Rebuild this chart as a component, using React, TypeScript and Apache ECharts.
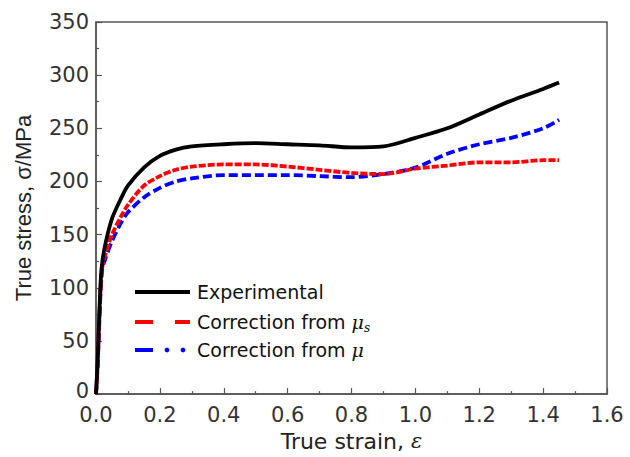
import React, { useEffect, useRef } from "react";
import * as echarts from "echarts";

const strainExp = [0, 0.005, 0.01, 0.015, 0.02, 0.03, 0.05, 0.08, 0.1, 0.15, 0.2, 0.25, 0.3, 0.4, 0.5, 0.6, 0.7, 0.8, 0.9, 1.0, 1.1, 1.2, 1.3, 1.4, 1.45];
const stressExp = [0, 30, 72, 108, 125, 142, 165, 185, 196, 213, 224, 230, 233, 235, 236, 235, 234, 232, 233, 241, 250, 263, 276, 287, 293];

const strainMus = [0, 0.005, 0.01, 0.015, 0.02, 0.03, 0.05, 0.08, 0.1, 0.15, 0.2, 0.25, 0.3, 0.4, 0.5, 0.6, 0.7, 0.8, 0.9, 1.0, 1.1, 1.2, 1.3, 1.4, 1.45];
const stressMus = [0, 28, 68, 103, 120, 132, 150, 168, 178, 196, 205, 211, 214, 216, 216, 214, 211, 208, 207, 212, 215, 218, 218, 220, 220];

const strainMu = [0, 0.005, 0.01, 0.015, 0.02, 0.03, 0.05, 0.08, 0.1, 0.15, 0.2, 0.25, 0.3, 0.4, 0.5, 0.6, 0.7, 0.8, 0.9, 1.0, 1.1, 1.2, 1.3, 1.4, 1.45];
const stressMu = [0, 25, 64, 100, 118, 128, 144, 162, 171, 185, 194, 200, 203, 206, 206, 206, 205, 204, 207, 213, 226, 235, 241, 250, 258];

const legendNames = ["Experimental", "Correction from ", "Correction from "];

const zip = (xs: number[], ys: number[]) => xs.map((x, i) => [x, ys[i]]);

const FONT = "'DejaVu Sans', 'Liberation Sans', Arial, sans-serif";
const FONT_Y = "'Liberation Sans', Arial, sans-serif";
const SERIF = "'DejaVu Serif', serif";

export default function App() {
  const ref = useRef<HTMLDivElement>(null);
  useEffect(() => {
    if (!ref.current) return;
    const chart = echarts.init(ref.current, undefined, { renderer: "svg" });
    const axisColor = "#555";
    const legendText = 197;
    const lw = 3.8;
    chart.setOption({
      animation: false,
      backgroundColor: "#fff",
      grid: {
        left: 96,
        right: 23,
        top: 22,
        bottom: 61,
        show: true,
        borderColor: axisColor,
        borderWidth: 1.5,
        backgroundColor: "transparent",
      },
      xAxis: {
        type: "value",
        min: 0,
        max: 1.6,
        interval: 0.2,
        name: "{n|True strain, }{i|ε}",
        nameLocation: "middle",
        nameGap: 34,
        nameTextStyle: {
          rich: {
            n: { fontFamily: FONT, fontSize: 22, color: "#222" },
            i: { fontFamily: SERIF, fontStyle: "italic", fontSize: 21, color: "#222" },
          },
        },
        axisLine: { show: true, lineStyle: { color: axisColor, width: 1.5 } },
        axisTick: { show: true, inside: true, length: 6, lineStyle: { color: axisColor, width: 1.2 } },
        minorTick: { show: true, splitNumber: 2, length: 3, lineStyle: { color: axisColor, width: 1.2 } },
        splitLine: { show: false },
        axisLabel: {
          fontFamily: FONT,
          fontSize: 21,
          lineHeight: 17,
          color: "#333",
          margin: 12,
          formatter: (v: number) => v.toFixed(1),
        },
      },
      yAxis: {
        type: "value",
        min: 0,
        max: 350,
        interval: 50,
        name: "True stress, σ/MPa",
        nameLocation: "middle",
        nameGap: 62,
        nameTextStyle: { fontFamily: FONT_Y, fontSize: 22, color: "#222" },
        axisLine: { show: true, lineStyle: { color: axisColor, width: 1.5 } },
        axisTick: { show: true, inside: true, length: 6, lineStyle: { color: axisColor, width: 1.2 } },
        minorTick: { show: true, splitNumber: 2, length: 3, lineStyle: { color: axisColor, width: 1.2 } },
        splitLine: { show: false },
        axisLabel: {
          fontFamily: FONT,
          fontSize: 21,
          lineHeight: 16,
          color: "#333",
          margin: 7,
          formatter: (v: number) => (v === 0 ? "{z|0}" : String(v)),
          rich: {
            z: { fontFamily: FONT, fontSize: 21, lineHeight: 16, color: "#333", padding: [0, 0, 7, 0] },
          },
        },
      },
      series: [
        {
          name: "Experimental",
          type: "line",
          data: zip(strainExp, stressExp),
          smooth: 0.3,
          showSymbol: false,
          lineStyle: { color: "#000", width: lw },
          z: 3,
        },
        {
          name: "Correction from mu_s",
          type: "line",
          data: zip(strainMus, stressMus),
          smooth: 0.3,
          showSymbol: false,
          lineStyle: { color: "#f00", width: lw, type: [7, 2] },
          z: 2,
        },
        {
          name: "Correction from mu",
          type: "line",
          data: zip(strainMu, stressMu),
          smooth: 0.3,
          showSymbol: false,
          lineStyle: { color: "#00f", width: lw, type: [9, 4] },
          z: 1,
        },
      ],
      graphic: [
        { type: "line", shape: { x1: 135, y1: 292, x2: 190, y2: 292 }, style: { stroke: "#000", lineWidth: 4 } },
        { type: "line", shape: { x1: 135, y1: 322, x2: 153, y2: 322 }, style: { stroke: "#f00", lineWidth: 4 } },
        { type: "line", shape: { x1: 175, y1: 322, x2: 190, y2: 322 }, style: { stroke: "#f00", lineWidth: 4 } },
        { type: "line", shape: { x1: 135, y1: 350, x2: 153, y2: 350 }, style: { stroke: "#00f", lineWidth: 4 } },
        { type: "circle", shape: { cx: 167, cy: 350, r: 2.4 }, style: { fill: "#00f" } },
        { type: "circle", shape: { cx: 183, cy: 350, r: 2.4 }, style: { fill: "#00f" } },
        {
          type: "text",
          x: legendText,
          y: 292,
          style: { text: legendNames[0], fontFamily: FONT, fontSize: 19, fill: "#111", verticalAlign: "middle" },
        },
        {
          type: "text",
          x: legendText,
          y: 322,
          style: {
            text: "{n|" + legendNames[1] + "}{i|μ}{s|s}",
            fontFamily: FONT,
            fontSize: 19,
            fill: "#111",
            verticalAlign: "middle",
            rich: {
              n: { fontFamily: FONT, fontSize: 19, fill: "#111" },
              i: { fontFamily: SERIF, fontStyle: "italic", fontSize: 19, fill: "#111" },
              s: { fontFamily: SERIF, fontStyle: "italic", fontSize: 12, fill: "#111", padding: [12, 0, 0, 0] },
            },
          },
        },
        {
          type: "text",
          x: legendText,
          y: 350,
          style: {
            text: "{n|" + legendNames[2] + "}{i|μ}",
            fontFamily: FONT,
            fontSize: 19,
            fill: "#111",
            verticalAlign: "middle",
            rich: {
              n: { fontFamily: FONT, fontSize: 19, fill: "#111" },
              i: { fontFamily: SERIF, fontStyle: "italic", fontSize: 19, fill: "#111" },
            },
          },
        },
      ],
    });
    return () => chart.dispose();
  }, []);
  return <div ref={ref} style={{ width: 630, height: 457, position: "absolute", left: 0, top: 0 }} />;
}
